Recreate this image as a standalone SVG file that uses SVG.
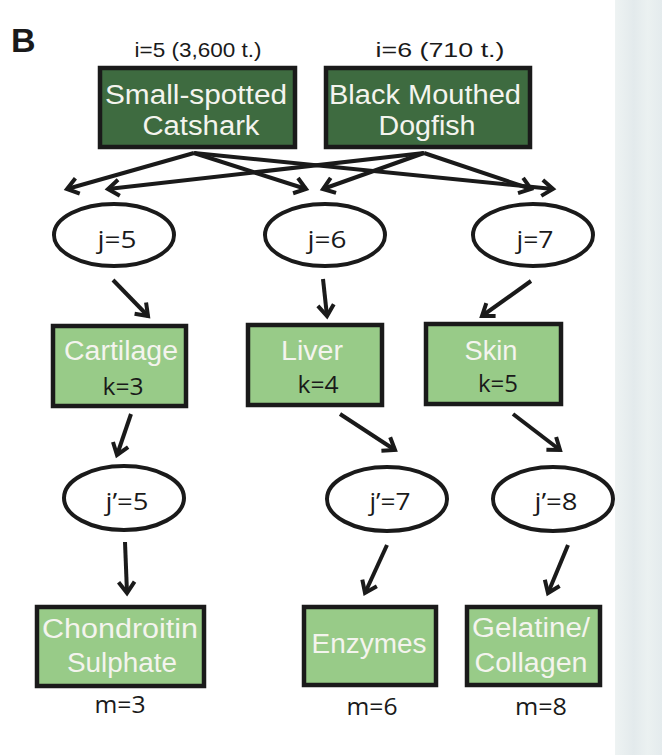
<svg xmlns="http://www.w3.org/2000/svg" width="662" height="755" viewBox="0 0 662 755">
<defs>
<marker id="ah" markerUnits="userSpaceOnUse" markerWidth="24" markerHeight="24" refX="14" refY="10" orient="auto" viewBox="0 0 24 20">
<path d="M3,2 L14,10 L3,18" fill="none" stroke="#1a1a1a" stroke-width="4"/>
</marker>
<linearGradient id="bg" x1="0" y1="0" x2="1" y2="0">
<stop offset="0" stop-color="#eef3f3"/>
<stop offset="0.4" stop-color="#e3eaec"/>
<stop offset="0.7" stop-color="#ebf1f1"/>
<stop offset="1" stop-color="#e4ebed"/>
</linearGradient>
<style>
.lbl{font-family:"Liberation Sans",Arial,sans-serif;font-size:21px;fill:#1a1a1a;text-anchor:middle}
.big{font-family:"Liberation Sans",Arial,sans-serif;font-size:27px;fill:#f4f4ee;text-anchor:middle}
.sm{font-family:"Open Sans","Noto Sans",sans-serif;font-size:23px;fill:#1a1a1a;text-anchor:middle}
.dk{fill:#3e6b40;stroke:#1a1a1a;stroke-width:4.5}
.lt{fill:#98cb88;stroke:#1a1a1a;stroke-width:4.5}
.el{fill:#ffffff;stroke:#1a1a1a;stroke-width:4}
.ar{fill:none;stroke:#1a1a1a;stroke-width:4;marker-end:url(#ah)}
</style>
</defs>
<rect width="662" height="755" fill="#ffffff"/>
<rect x="615" y="0" width="47" height="755" fill="url(#bg)"/>
<text x="11" y="52" font-family="Liberation Sans,Arial,sans-serif" font-weight="bold" font-size="34" fill="#1a1a1a">B</text>
<text class="lbl" x="198" y="57" textLength="127" lengthAdjust="spacingAndGlyphs">i=5  (3,600 t.)</text>
<text class="lbl" x="440" y="57" textLength="129" lengthAdjust="spacingAndGlyphs">i=6  (710 t.)</text>

<g id="connectors">
<path class="ar" d="M194,153 L67,189"/>
<path class="ar" d="M194,153 L306,189"/>
<path class="ar" d="M194,153 L553,189"/>
<path class="ar" d="M424,153 L108,189"/>
<path class="ar" d="M424,153 L323,189"/>
<path class="ar" d="M424,153 L531,189"/>
<path class="ar" d="M113,280 L148,316"/>
<path class="ar" d="M323,279 L327,316"/>
<path class="ar" d="M531,281 L482,316"/>
<path class="ar" d="M131,414 L117,455"/>
<path class="ar" d="M340,414 L395,450"/>
<path class="ar" d="M513,414 L560,450"/>
<path class="ar" d="M125,542 L127,593"/>
<path class="ar" d="M387,545 L365,593"/>
<path class="ar" d="M568,545 L548,593"/>
</g>

<g id="n_catshark">
<rect class="dk" x="100" y="68" width="195" height="79"/>
<text class="big" x="196" y="104" textLength="182" lengthAdjust="spacingAndGlyphs">Small-spotted</text>
<text class="big" x="201" y="135" textLength="117" lengthAdjust="spacingAndGlyphs">Catshark</text>
</g>
<g id="n_dogfish">
<rect class="dk" x="326" y="68" width="204" height="79"/>
<text class="big" x="425" y="104" textLength="192" lengthAdjust="spacingAndGlyphs">Black Mouthed</text>
<text class="big" x="427" y="135" textLength="97" lengthAdjust="spacingAndGlyphs">Dogfish</text>
</g>

<g id="n_j5"><ellipse class="el" cx="114" cy="235" rx="60" ry="31"/><text class="sm" x="117" y="248" textLength="39" lengthAdjust="spacingAndGlyphs">j=5</text></g>
<g id="n_j6"><ellipse class="el" cx="325" cy="235" rx="60" ry="31"/><text class="sm" x="327" y="248" textLength="39" lengthAdjust="spacingAndGlyphs">j=6</text></g>
<g id="n_j7"><ellipse class="el" cx="533" cy="235" rx="60" ry="31"/><text class="sm" x="535" y="248" textLength="37" lengthAdjust="spacingAndGlyphs">j=7</text></g>

<g id="n_cartilage"><rect class="lt" x="53" y="326" width="133" height="80"/><text class="big" x="121" y="360" textLength="114" lengthAdjust="spacingAndGlyphs">Cartilage</text><text class="sm" x="123" y="395" textLength="41" lengthAdjust="spacingAndGlyphs">k=3</text></g>
<g id="n_liver"><rect class="lt" x="248" y="325" width="134" height="80"/><text class="big" x="312" y="360" textLength="62" lengthAdjust="spacingAndGlyphs">Liver</text><text class="sm" x="318" y="393" textLength="41" lengthAdjust="spacingAndGlyphs">k=4</text></g>
<g id="n_skin"><rect class="lt" x="426" y="324" width="135" height="80"/><text class="big" x="491" y="360" textLength="53" lengthAdjust="spacingAndGlyphs">Skin</text><text class="sm" x="498" y="392" textLength="40" lengthAdjust="spacingAndGlyphs">k=5</text></g>

<g id="n_jp5"><ellipse class="el" cx="124" cy="498" rx="60" ry="32"/><text class="sm" x="127" y="510" textLength="43" lengthAdjust="spacingAndGlyphs">j’=5</text></g>
<g id="n_jp7"><ellipse class="el" cx="387" cy="499" rx="60" ry="32"/><text class="sm" x="390" y="510" textLength="41" lengthAdjust="spacingAndGlyphs">j’=7</text></g>
<g id="n_jp8"><ellipse class="el" cx="553" cy="499" rx="60" ry="32"/><text class="sm" x="556" y="510" textLength="43" lengthAdjust="spacingAndGlyphs">j’=8</text></g>

<g id="n_chondroitin"><rect class="lt" x="37" y="607" width="167" height="79"/><text class="big" x="120" y="638" textLength="156" lengthAdjust="spacingAndGlyphs">Chondroitin</text><text class="big" x="122" y="672" textLength="110" lengthAdjust="spacingAndGlyphs">Sulphate</text><text class="sm" x="120" y="713" textLength="51" lengthAdjust="spacingAndGlyphs">m=3</text></g>
<g id="n_enzymes"><rect class="lt" x="304" y="607" width="132" height="78"/><text class="big" x="369" y="653" textLength="115" lengthAdjust="spacingAndGlyphs">Enzymes</text><text class="sm" x="372" y="715" textLength="51" lengthAdjust="spacingAndGlyphs">m=6</text></g>
<g id="n_gelatine"><rect class="lt" x="467" y="607" width="133" height="78"/><text class="big" x="531" y="637" textLength="118" lengthAdjust="spacingAndGlyphs">Gelatine/</text><text class="big" x="531" y="672" textLength="113" lengthAdjust="spacingAndGlyphs">Collagen</text><text class="sm" x="541" y="715" textLength="52" lengthAdjust="spacingAndGlyphs">m=8</text></g>
</svg>
